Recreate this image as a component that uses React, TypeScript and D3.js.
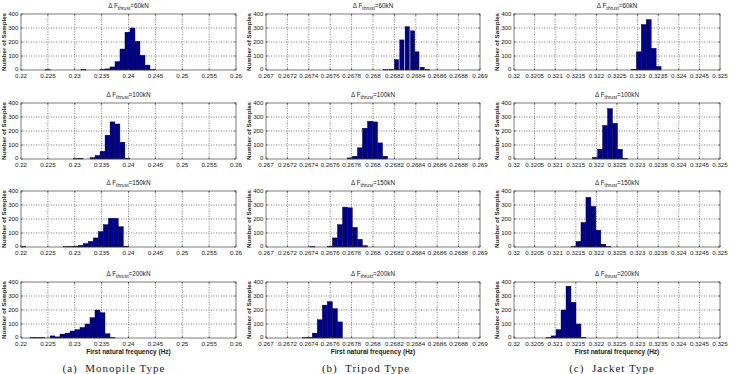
import React from 'react';
import * as d3 from 'd3';

// x ticks for each structure type
const monoTicks = [0.22, 0.225, 0.23, 0.235, 0.24, 0.245, 0.25, 0.255, 0.26];
const tripodTicks = [0.267, 0.2672, 0.2674, 0.2676, 0.2678, 0.268, 0.2682, 0.2684, 0.2686, 0.2688, 0.269];
const jacketTicks = [0.32, 0.3205, 0.321, 0.3215, 0.322, 0.3225, 0.323, 0.3235, 0.324, 0.3245, 0.325];
const yTicks = [0, 100, 200, 300, 400];

const thrustLabels = ['60kN', '100kN', '150kN', '200kN'];
const captions = ['(a)  Monopile Type', '(b)  Tripod Type', '(c)  Jacket Type'];

// histogram bin centres (Hz) and sample counts
const mono60Bins = [0.2250, 0.2316, 0.23516, 0.23609, 0.23702, 0.23795, 0.23888, 0.23981, 0.24074, 0.24167, 0.2426, 0.24353, 0.24446];
const mono60Counts = [2, 4, 3, 8, 22, 60, 150, 270, 300, 205, 105, 35, 3];
const mono100Bins = [0.2302, 0.2311, 0.2333, 0.23423, 0.23516, 0.23609, 0.23702, 0.23795, 0.23888, 0.23981];
const mono100Counts = [3, 5, 10, 25, 55, 170, 265, 250, 120, 5];
const mono150Bins = [0.22043, 0.22834, 0.22927, 0.2302, 0.23113, 0.23206, 0.23299, 0.23392, 0.23485, 0.23578, 0.23671, 0.23764, 0.23857, 0.2395];
const mono150Counts = [3, 2, 3, 6, 12, 25, 40, 65, 110, 160, 205, 205, 145, 6];
const mono200Bins = [0.22214, 0.22307, 0.224, 0.22586, 0.22679, 0.22772, 0.22865, 0.22958, 0.23051, 0.23144, 0.23237, 0.2333, 0.23423, 0.23516, 0.23609, 0.23702];
const mono200Counts = [3, 3, 3, 15, 8, 28, 35, 50, 60, 75, 100, 145, 200, 180, 30, 3];

const tri60Bins = [0.26812, 0.26817, 0.26822, 0.26827, 0.26832, 0.26837, 0.26841, 0.26846, 0.26851];
const tri60Counts = [3, 5, 75, 215, 310, 280, 130, 20, 5];
const tri100Bins = [0.267784, 0.267831, 0.267878, 0.267925, 0.267972, 0.268019, 0.268066, 0.268113];
const tri100Counts = [8, 20, 80, 220, 270, 265, 115, 20];
const tri150Bins = [0.267434, 0.267597, 0.267644, 0.267691, 0.267738, 0.267784, 0.267831, 0.267878, 0.267925];
const tri150Counts = [3, 4, 65, 160, 285, 280, 140, 55, 10];
const tri200Bins = [0.267362, 0.267409, 0.267456, 0.267503, 0.26755, 0.267597, 0.267644, 0.267691];
const tri200Counts = [3, 5, 35, 130, 235, 260, 210, 115];

const jac60Bins = [0.32291, 0.32303, 0.32315, 0.32327, 0.32339, 0.32351];
const jac60Counts = [5, 130, 325, 360, 155, 25];
const jac100Bins = [0.321968, 0.322089, 0.32221, 0.322331, 0.322452, 0.322573, 0.322694];
const jac100Counts = [12, 70, 240, 360, 255, 70, 5];
const jac150Bins = [0.321444, 0.321565, 0.321685, 0.321806, 0.321927, 0.322048, 0.322169, 0.32229];
const jac150Counts = [3, 40, 175, 355, 290, 120, 20, 3];
const jac200Bins = [0.320839, 0.32096, 0.321081, 0.321202, 0.321323, 0.321444, 0.321565, 0.321686];
const jac200Counts = [3, 15, 60, 200, 370, 255, 100, 5];

const columns = [
  { ticks: monoTicks, fmt: (v: number) => String(+v.toFixed(3)), bins: [mono60Bins, mono100Bins, mono150Bins, mono200Bins], counts: [mono60Counts, mono100Counts, mono150Counts, mono200Counts] },
  { ticks: tripodTicks, fmt: (v: number) => String(+v.toFixed(4)), bins: [tri60Bins, tri100Bins, tri150Bins, tri200Bins], counts: [tri60Counts, tri100Counts, tri150Counts, tri200Counts] },
  { ticks: jacketTicks, fmt: (v: number) => String(+v.toFixed(4)), bins: [jac60Bins, jac100Bins, jac150Bins, jac200Bins], counts: [jac60Counts, jac100Counts, jac150Counts, jac200Counts] },
];

// layout
const colX = [[21, 236], [266, 480], [514, 720]];
const rowY = [[14, 70], [103, 159], [191, 247], [282, 338]];
const captionX = [114, 366, 612];
const FONT = 'Liberation Sans, Arial, sans-serif';

function Panel({ col, row }: { col: number; row: number }) {
  const c = columns[col];
  const [x0, x1] = colX[col];
  const [y0, y1] = rowY[row];
  const x = d3.scaleLinear().domain([c.ticks[0], c.ticks[c.ticks.length - 1]]).range([x0, x1]);
  const y = d3.scaleLinear().domain([0, 400]).range([y1, y0]);
  const bins = c.bins[row];
  const counts = c.counts[row];
  const step = d3.min(d3.pairs(bins), ([a, b]) => b - a) as number;
  const bw = x(c.ticks[0] + step) - x(c.ticks[0]);
  const cx = (x0 + x1) / 2;
  return (
    <g>
      {/* grid */}
      {c.ticks.slice(1, -1).map((t) => (
        <line key={'gx' + t} x1={x(t)} x2={x(t)} y1={y0} y2={y1} stroke="#333" strokeWidth={0.6} strokeDasharray="1,1.5" />
      ))}
      {yTicks.slice(1, -1).map((t) => (
        <line key={'gy' + t} x1={x0} x2={x1} y1={y(t)} y2={y(t)} stroke="#333" strokeWidth={0.6} strokeDasharray="1,1.5" />
      ))}
      {/* bars */}
      {bins.map((b, i) => (
        <rect key={i} x={x(b) - bw / 2} width={bw} y={y(counts[i])} height={y1 - y(counts[i])} fill="#00008f" stroke="#000" strokeWidth={0.4} />
      ))}
      {/* inner ticks */}
      {c.ticks.map((t) => (
        <g key={'tx' + t}>
          <line x1={x(t)} x2={x(t)} y1={y1} y2={y1 - 2} stroke="#333" strokeWidth={0.6} />
          <line x1={x(t)} x2={x(t)} y1={y0} y2={y0 + 2} stroke="#333" strokeWidth={0.6} />
          <text x={x(t)} y={y1 + 8} fontSize={6.2} textAnchor="middle" fill="#222" fontFamily={FONT}>{c.fmt(t)}</text>
        </g>
      ))}
      {yTicks.map((t) => (
        <g key={'ty' + t}>
          <line x1={x0} x2={x0 + 2} y1={y(t)} y2={y(t)} stroke="#333" strokeWidth={0.6} />
          <line x1={x1} x2={x1 - 2} y1={y(t)} y2={y(t)} stroke="#333" strokeWidth={0.6} />
          <text x={x0 - 2.5} y={y(t) + (t === 0 ? 1.2 : 2.2)} fontSize={6.2} textAnchor="end" fill="#222" fontFamily={FONT}>{t}</text>
        </g>
      ))}
      <rect x={x0} y={y0} width={x1 - x0} height={y1 - y0} fill="none" stroke="#444" strokeWidth={0.7} />
      {/* title */}
      <text x={cx} y={y0 - 6.5} fontSize={6.3} textAnchor="middle" fill="#222" fontFamily={FONT}>
        {'\u0394 F'}
        <tspan fontSize={5} dy={2}>thrust</tspan>
        <tspan dy={-2}>={thrustLabels[row]}</tspan>
      </text>
      <text transform={`translate(${x0 - 15},${(y0 + y1) / 2}) rotate(-90)`} fontSize={6.2} fontWeight="bold" textAnchor="middle" fill="#222" fontFamily={FONT}>
        Number of Samples
      </text>
      {row === 3 && (
        <text x={cx} y={y1 + 16} fontSize={6.5} fontWeight="bold" textAnchor="middle" fill="#222" fontFamily={FONT}>
          First natural frequency (Hz)
        </text>
      )}
    </g>
  );
}

export default function App() {
  return (
    <svg width={729} height={374} style={{ position: 'absolute', left: 0, top: 0, background: '#fff' }}>
      <rect width={729} height={374} fill="#fff" />
      {[0, 1, 2].map((col) => [0, 1, 2, 3].map((row) => <Panel key={col + '-' + row} col={col} row={row} />))}
      {captions.map((t, i) => (
        <text key={t} x={captionX[i]} y={372} fontSize={11} textAnchor="middle" fill="#222" fontFamily="Liberation Serif, DejaVu Serif, serif" letterSpacing={1} xmlSpace="preserve">
          {t}
        </text>
      ))}
    </svg>
  );
}
